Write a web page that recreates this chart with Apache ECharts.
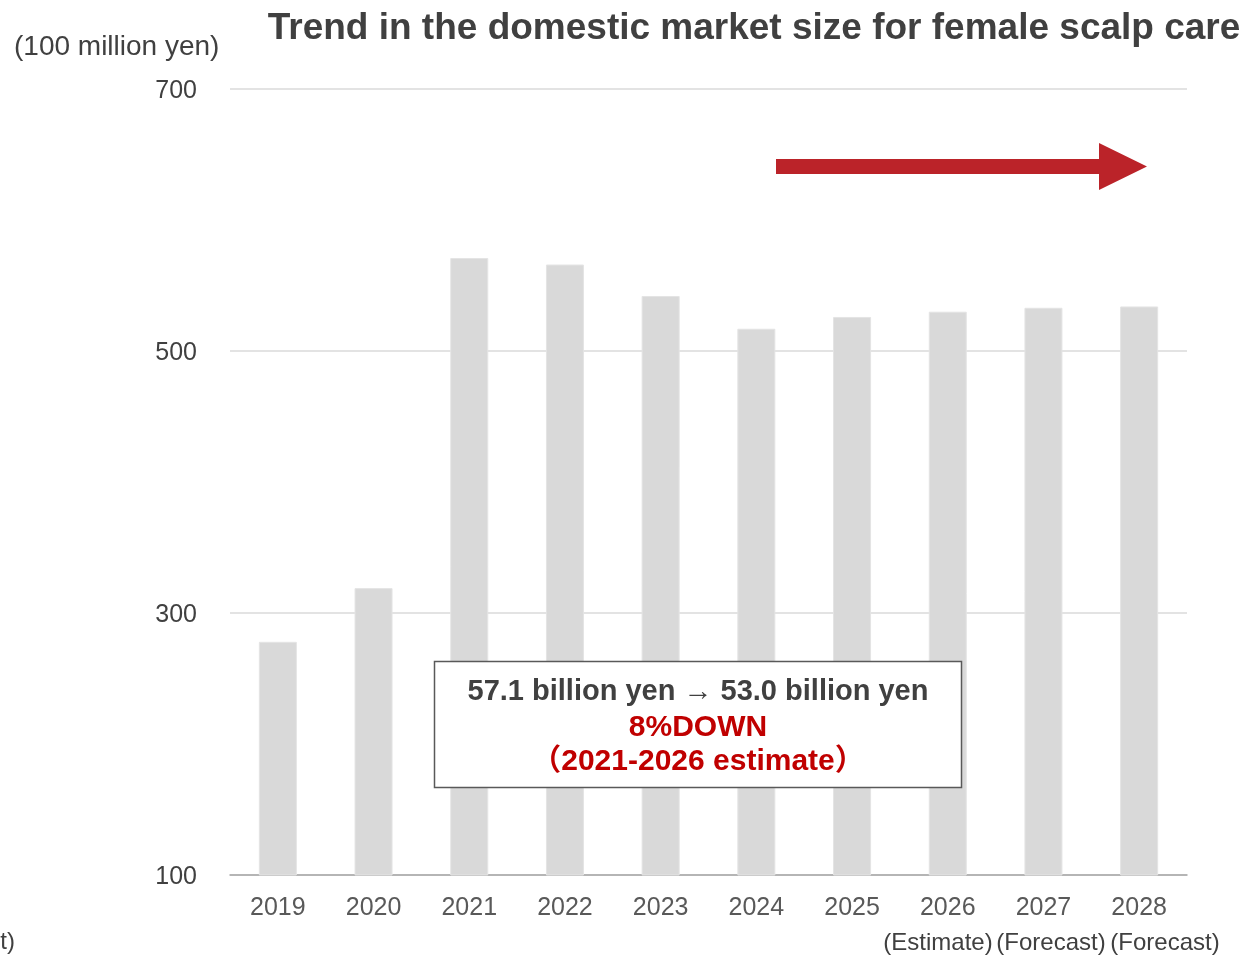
<!DOCTYPE html>
<html>
<head>
<meta charset="utf-8">
<script src="https://cdn.jsdelivr.net/npm/echarts@6/dist/echarts.min.js"></script>
<style>
  html, body { margin: 0; padding: 0; background: #ffffff; }
  #chart { width: 1250px; height: 956px; }
</style>
</head>
<body>
<div id="chart"></div>
<script>
// Female scalp care market, domestic (unit: 100 million yen)
const years = ['2019', '2020', '2021', '2022', '2023', '2024', '2025', '2026', '2027', '2028'];
const marketSize = [278, 319, 571, 566, 542, 517, 526, 530, 533, 534];
const yTicks = [100, 300, 500, 700];
const yearNotes = [
  { year: '2026', text: '(Estimate)' },
  { year: '2027', text: '(Forecast)' },
  { year: '2028', text: '(Forecast)' }
];
const changeLabel = '8%DOWN';

const FONT = '"Liberation Sans", Arial, sans-serif';
const chart = echarts.init(document.getElementById('chart'));

const GRID = { left: 230, right: 63, top: 89, bottom: 81 };

// Comparison text built from the 2021 and 2026 values
const iFrom = years.indexOf('2021');
const iTo = years.indexOf('2026');
const fromBn = (marketSize[iFrom] / 10).toFixed(1);
const toBn = (marketSize[iTo] / 10).toFixed(1);

chart.setOption({
  animation: false,
  backgroundColor: '#ffffff',
  title: {
    text: 'Trend in the domestic market size for female scalp care',
    left: 749,
    textAlign: 'center',
    top: 5,
    textStyle: { fontFamily: FONT, fontSize: 37, fontWeight: 'bold', color: '#404040' }
  },
  grid: GRID,
  xAxis: {
    type: 'category',
    data: years,
    axisLine: { lineStyle: { color: '#a6a6a6', width: 1.5 } },
    axisTick: { show: false },
    axisLabel: { fontFamily: FONT, fontSize: 25, color: '#595959', margin: 21 }
  },
  yAxis: {
    type: 'value',
    min: yTicks[0],
    max: yTicks[yTicks.length - 1],
    interval: yTicks[1] - yTicks[0],
    axisLine: { show: false },
    axisTick: { show: false },
    splitLine: { lineStyle: { color: '#e3e3e3', width: 2 } },
    axisLabel: { fontFamily: FONT, fontSize: 25, color: '#404040', margin: 33, lineHeight: 29, verticalAlign: 'top', padding: [-12, 0, 0, 0] }
  },
  series: [{
    type: 'bar',
    data: marketSize,
    barWidth: 38,
    itemStyle: { color: '#d9d9d9', borderColor: '#e4e4e4', borderWidth: 1 }
  }],
  graphic: [
    {
      type: 'text', x: 14, y: 47,
      style: { text: '(100 million yen)', font: '28px ' + FONT, fill: '#404040', verticalAlign: 'middle' }
    },
    {
      type: 'text', x: 15, y: 942,
      style: { text: '(Forecast)', font: '24px ' + FONT, fill: '#404040', align: 'right', verticalAlign: 'middle' }
    },
    ...yearNotes.map((n, k) => ({
      type: 'text', x: [938, 1051, 1165][k], y: 943,
      style: { text: n.text, font: '24px ' + FONT, fill: '#404040', align: 'center', verticalAlign: 'middle' }
    })),
    // Trend arrow
    {
      type: 'polygon',
      shape: { points: [[776, 159], [1099, 159], [1099, 143], [1147, 166.5], [1099, 190], [1099, 174], [776, 174]] },
      style: { fill: '#bb2329' }
    },
    // Comparison box
    {
      type: 'rect',
      shape: { x: 434.5, y: 661.5, width: 527, height: 126 },
      style: { fill: '#ffffff', stroke: '#595959', lineWidth: 1.5 },
      z: 10
    },
    {
      type: 'text', x: 698, y: 692, z: 11,
      style: { text: fromBn + ' billion yen \u2192 ' + toBn + ' billion yen', font: 'bold 29px ' + FONT, fill: '#404040', align: 'center', verticalAlign: 'middle' }
    },
    {
      type: 'text', x: 698, y: 728, z: 11,
      style: { text: changeLabel, font: 'bold 30px ' + FONT, fill: '#c00000', align: 'center', verticalAlign: 'middle' }
    },
    {
      type: 'text', x: 698, y: 762, z: 11,
      style: { text: '\uFF08' + years[iFrom] + '-' + years[iTo] + ' estimate\uFF09', font: 'bold 30px ' + FONT + ', "Noto Sans CJK JP"', fill: '#c00000', align: 'center', verticalAlign: 'middle' }
    }
  ]
});
</script>
</body>
</html>
